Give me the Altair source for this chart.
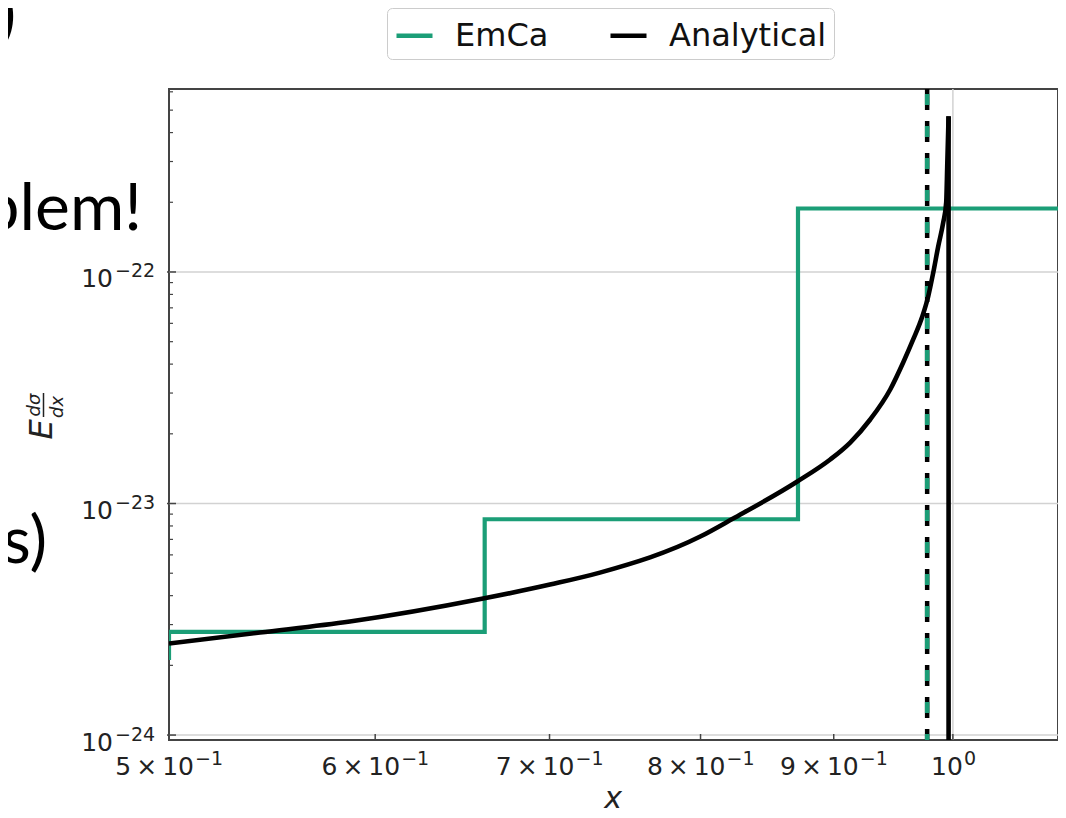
import altair as alt
import pandas as pd

# ---------------- data ----------------
# EmCa step histogram: left start value, then bin edges (log-spaced) and bin heights
emca_start_x = [0.5]
emca_start_y = [2.11e-24]
emca_edges = [0.5, 0.661, 0.872, 1.15]
emca_values = [2.79e-24, 8.55e-24, 1.88e-22]

# Analytical curve
ana_x = [0.5, 0.5419, 0.5867, 0.6601, 0.7003, 0.7319, 0.7998, 0.8234, 0.8715,
         0.8972, 0.9132, 0.9295, 0.9461, 0.9570, 0.9655, 0.9733, 0.9784, 0.9828,
         0.9871, 0.9915, 0.9941, 0.9950, 0.9962]
ana_y = [2.485e-24, 2.772e-24, 3.093e-24, 3.887e-24, 4.467e-24, 5.03e-24, 7.20e-24,
         8.61e-24, 1.245e-23, 1.549e-23, 1.834e-23, 2.306e-23, 3.108e-23, 4.065e-23,
         5.11e-23, 6.42e-23, 7.84e-23, 9.95e-23, 1.289e-22, 1.636e-22, 1.996e-22,
         2.856e-22, 4.70e-22]

# vertical dashed marker
vline_x = [0.9775]

# axes
x_tick_vals = [0.5, 0.6, 0.7, 0.8, 0.9, 1.0]
x_label_base = ["5\u2009×\u200910", "6\u2009×\u200910", "7\u2009×\u200910",
                "8\u2009×\u200910", "9\u2009×\u200910", "10"]
x_label_exp = ["−1", "−1", "−1", "−1", "−1", "0"]
y_tick_vals = [1e-24, 1e-23, 1e-22]
y_label_base = ["10", "10", "10"]
y_label_exp = ["−24", "−23", "−22"]
y_minor_vals = [2e-24, 3e-24, 4e-24, 5e-24, 6e-24, 7e-24, 8e-24, 9e-24,
                2e-23, 3e-23, 4e-23, 5e-23, 6e-23, 7e-23, 8e-23, 9e-23,
                2e-22, 3e-22, 4e-22, 5e-22, 6e-22]
grid_x = [1.0]
grid_y = [1e-24, 1e-23, 1e-22]
x_title = "x"
y_title_parts = ["E", "dσ", "dx"]

series_names = ["EmCa", "Analytical"]
series_colors = ["#1b9e77", "#000000"]

# fragments of surrounding slide text
slide_texts = ["blem!", "s)", ")"]

# ---------------- tables ----------------
emca_x = emca_start_x + emca_edges
emca_y = emca_start_y + emca_values + [emca_values[-1]]
emca_df = pd.DataFrame({"x": emca_x, "y": emca_y, "i": list(range(len(emca_x))),
                        "series": "EmCa"})
ana_df = pd.DataFrame({"x": ana_x, "y": ana_y, "i": list(range(len(ana_x))),
                       "series": "Analytical"})
drop_df = pd.DataFrame({"x": [ana_x[-1]], "y": [ana_y[-1]]})
vline_df = pd.DataFrame({"x": vline_x})
gx_df = pd.DataFrame({"x": grid_x})
gy_df = pd.DataFrame({"y": grid_y})
xt_df = pd.DataFrame({"x": x_tick_vals, "base": x_label_base, "exp": x_label_exp})
yt_df = pd.DataFrame({"y": y_tick_vals, "base": y_label_base, "exp": y_label_exp})
ym_df = pd.DataFrame({"y": y_minor_vals})

W, H = 889, 651
xscale = alt.Scale(type="log", domain=[0.5, 1.0974], nice=False)
yscale = alt.Scale(type="log", domain=[9.52e-25, 6.17e-22], nice=False)
cscale = alt.Scale(domain=series_names, range=series_colors)

FONT = "DejaVu Sans"
TXT = "#222222"

legend = alt.Legend(title=None, orient="none", legendX=218, legendY=-81,
                    direction="horizontal", symbolType="stroke", symbolSize=1296,
                    symbolStrokeWidth=4.5, labelFont=FONT, labelFontSize=32,
                    labelColor="#111111", labelOffset=20, columnPadding=52,
                    labelLimit=400, padding=7, fillColor="white",
                    strokeColor="#cccccc", cornerRadius=5)

X = lambda: alt.X("x:Q", scale=xscale, axis=None)
Y = lambda: alt.Y("y:Q", scale=yscale, axis=None)

grid_v = alt.Chart(gx_df).mark_rule(color="#d2d2d2", strokeWidth=1.5).encode(x=X())
grid_h = alt.Chart(gy_df).mark_rule(color="#d2d2d2", strokeWidth=1.5).encode(y=Y())

emca = alt.Chart(emca_df).mark_line(interpolate="step-after", strokeWidth=4.2,
                                    clip=True, strokeJoin="miter").encode(
    x=X(), y=Y(),
    color=alt.Color("series:N", scale=cscale, legend=legend),
    order=alt.Order("i:Q"))

vdash_black = alt.Chart(vline_df).mark_rule(color="#000000", strokeWidth=4.5,
                                            strokeDash=[21, 11]).encode(x=X())
vdash_green = alt.Chart(vline_df).mark_rule(color="#1b9e77", strokeWidth=4.5,
                                            strokeDash=[0, 5, 11, 16]).encode(x=X())

ana = alt.Chart(ana_df).mark_line(strokeWidth=4.6, clip=True, interpolate="monotone").encode(
    x=X(), y=Y(),
    color=alt.Color("series:N", scale=cscale, legend=legend),
    order=alt.Order("i:Q"))
drop = alt.Chart(drop_df).mark_rule(color="#000000", strokeWidth=4.6, clip=True).encode(
    x=X(), y=Y(), y2=alt.value(H))

# inward ticks
xticks = alt.Chart(xt_df).mark_rule(color="#444444", strokeWidth=1.5).encode(
    x=X(), y=alt.value(H), y2=alt.value(H - 6))
yticks = alt.Chart(yt_df).mark_rule(color="#444444", strokeWidth=1.5).encode(
    y=Y(), x=alt.value(-2), x2=alt.value(7))
yminor = alt.Chart(ym_df).mark_rule(color="#444444", strokeWidth=1.2).encode(
    y=Y(), x=alt.value(0), x2=alt.value(4))

# tick labels (mantissa/base + superscript exponent)
xt_main = alt.Chart(xt_df.iloc[:5])
xt_one = alt.Chart(xt_df.iloc[5:])
xlab = [
    xt_main.mark_text(font=FONT, fontSize=25, color=TXT, align="right",
                      baseline="alphabetic", dx=25).encode(
        x=X(), y=alt.value(H + 35), text="base:N"),
    xt_main.mark_text(font=FONT, fontSize=19, color=TXT, align="left",
                      baseline="alphabetic", dx=26).encode(
        x=X(), y=alt.value(H + 25), text="exp:N"),
    xt_one.mark_text(font=FONT, fontSize=25, color=TXT, align="right",
                     baseline="alphabetic", dx=10).encode(
        x=X(), y=alt.value(H + 35), text="base:N"),
    xt_one.mark_text(font=FONT, fontSize=19, color=TXT, align="left",
                     baseline="alphabetic", dx=11).encode(
        x=X(), y=alt.value(H + 25), text="exp:N"),
]
ylab = [
    alt.Chart(yt_df).mark_text(font=FONT, fontSize=25, color=TXT, align="right",
                               baseline="alphabetic", dy=15.5).encode(
        y=Y(), x=alt.value(-56), text="base:N"),
    alt.Chart(yt_df).mark_text(font=FONT, fontSize=19, color=TXT, align="left",
                               baseline="alphabetic", dy=5.5).encode(
        y=Y(), x=alt.value(-54), text="exp:N"),
]

# axis titles
xtitle = alt.Chart(pd.DataFrame({"t": [x_title]})).mark_text(
    font=FONT, fontSize=30, fontStyle="italic", color=TXT, align="center",
    baseline="middle").encode(text="t:N", x=alt.value(W / 2 - 0.5), y=alt.value(H + 59))
yt_parts_pos = [(-117, 340.5, 32), (-129, 316, 18), (-106, 318, 18)]
ytitle = []
for t, (px, py, fs) in zip(y_title_parts, yt_parts_pos):
    ytitle.append(alt.Chart(pd.DataFrame({"t": [t]})).mark_text(
        font=FONT, fontSize=fs, fontStyle="italic", color=TXT, align="center",
        baseline="alphabetic", angle=270).encode(
        text="t:N", x=alt.value(px), y=alt.value(py)))
frac_bar = alt.Chart(pd.DataFrame({"t": [0]})).mark_rule(
    color=TXT, strokeWidth=1.5).encode(
    x=alt.value(-125.5), y=alt.value(304), y2=alt.value(328))

text_pos = [(-27, 141), (-122, 474), (-153, -52)]
slide_layers = []
for t, (px, py) in zip(slide_texts, text_pos):
    slide_layers.append(
        alt.Chart(pd.DataFrame({"t": [t]})).mark_text(
            font="Lato", fontSize=66, align="right", baseline="alphabetic",
            color="#000000").encode(text="t:N", x=alt.value(px), y=alt.value(py)))

chart = alt.layer(grid_v, grid_h, emca, vdash_black, vdash_green, ana, drop,
                  xticks, yticks, yminor, *xlab, *ylab, xtitle, *ytitle, frac_bar,
                  *slide_layers).properties(
    width=W, height=H,
    autosize=alt.AutoSizeParams(type="none"),
    padding={"left": 161, "top": 81, "right": 0, "bottom": 70},
    background="white",
).configure_view(stroke="#444444", strokeWidth=2)

chart.save("out.html", embed_options={"renderer": "svg", "actions": False})
